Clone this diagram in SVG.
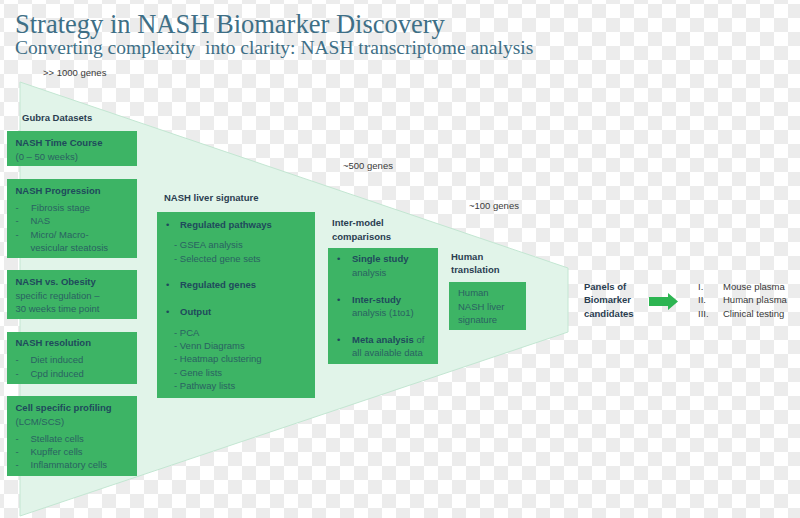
<svg xmlns="http://www.w3.org/2000/svg" width="800" height="518" viewBox="0 0 800 518">
<defs>
<pattern id="chk" x="4" y="4" width="28" height="28" patternUnits="userSpaceOnUse">
<rect width="28" height="28" fill="#ffffff"/>
<rect width="14" height="14" fill="#ececec"/>
<rect x="14" y="14" width="14" height="14" fill="#ececec"/>
</pattern>
<style>
.t{font-family:"Liberation Sans",Arial,sans-serif;font-size:9.5px}
.b{font-weight:bold}
.hd{fill:#2a3d50}
.gh{fill:#1f4a5c}
.gt{fill:#2a6262}
.dk{fill:#3a3a3a}
.box{fill:#3db465}
.ttl{font-family:"Liberation Serif","Times New Roman",serif;fill:#3e6f86}
</style>
</defs>
<rect width="800" height="518" fill="url(#chk)"/>
<text class="ttl" x="15" y="33" font-size="26.5">Strategy in NASH Biomarker Discovery</text>
<text class="ttl" x="15" y="54" font-size="19.5" xml:space="preserve">Converting complexity  into clarity: NASH transcriptome analysis</text>
<text class="t dk" x="43" y="76">&gt;&gt; 1000 genes</text>
<polygon id="funnel" points="20,82 568,268 568,332 20,516" fill="#e1f4e9" stroke="#c3e6d2" stroke-width="1"/>
<text class="t dk" x="343" y="169">~500 genes</text>
<text class="t dk" x="469" y="209">~100 genes</text>
<g id="gubra">
<text class="t b hd" x="22" y="121">Gubra Datasets</text>
</g>
<g id="timecourse">
<rect class="box" x="7" y="131" width="130" height="35"/>
<text class="t b gh" x="15.5" y="146">NASH Time Course</text>
<text class="t gt" x="15.5" y="160">(0 – 50 weeks)</text>
</g>
<g id="progression">
<rect class="box" x="7" y="179" width="130" height="79"/>
<text class="t b gh" x="15.5" y="194">NASH Progression</text>
<text class="t gt" x="15.5" y="211">-</text><text class="t gt" x="31" y="211">Fibrosis stage</text>
<text class="t gt" x="15.5" y="224">-</text><text class="t gt" x="30.5" y="224">NAS</text>
<text class="t gt" x="15.5" y="238">-</text><text class="t gt" x="30.5" y="238">Micro/ Macro-</text>
<text class="t gt" x="30.5" y="251">vesicular steatosis</text>
</g>
<g id="obesity">
<rect class="box" x="7" y="270" width="130" height="49"/>
<text class="t b gh" x="15.5" y="285">NASH vs. Obesity</text>
<text class="t gt" x="15.5" y="299">specific regulation –</text>
<text class="t gt" x="15.5" y="312">30 weeks time point</text>
</g>
<g id="resolution">
<rect class="box" x="7" y="332" width="130" height="52"/>
<text class="t b gh" x="15.5" y="346">NASH resolution</text>
<text class="t gt" x="15.5" y="363">-</text><text class="t gt" x="30.5" y="363">Diet induced</text>
<text class="t gt" x="15.5" y="377">-</text><text class="t gt" x="30.5" y="377">Cpd induced</text>
</g>
<g id="cellspecific">
<rect class="box" x="7" y="396" width="130" height="80"/>
<text class="t b gh" x="15.5" y="411">Cell specific profiling</text>
<text class="t gt" x="15.5" y="425">(LCM/SCS)</text>
<text class="t gt" x="15.5" y="442">-</text><text class="t gt" x="30.5" y="442">Stellate cells</text>
<text class="t gt" x="15.5" y="455">-</text><text class="t gt" x="30.5" y="455">Kupffer cells</text>
<text class="t gt" x="15.5" y="468">-</text><text class="t gt" x="30.5" y="468">Inflammatory cells</text>
</g>
<g id="signature">
<text class="t b hd" x="164" y="201">NASH liver signature</text>
<rect class="box" x="157" y="212" width="158" height="186"/>
<text class="t gh" x="166" y="228">•</text><text class="t b gh" x="180" y="228">Regulated pathways</text>
<text class="t gt" x="174" y="248">- GSEA analysis</text>
<text class="t gt" x="174" y="262">- Selected gene sets</text>
<text class="t gh" x="166" y="288">•</text><text class="t b gh" x="180" y="288">Regulated genes</text>
<text class="t gh" x="166" y="315">•</text><text class="t b gh" x="180" y="315">Output</text>
<text class="t gt" x="174" y="336">- PCA</text>
<text class="t gt" x="174" y="349">- Venn Diagrams</text>
<text class="t gt" x="174" y="362">- Heatmap clustering</text>
<text class="t gt" x="174" y="376">- Gene lists</text>
<text class="t gt" x="174" y="389">- Pathway lists</text>
</g>
<g id="intermodel">
<text class="t b hd" x="332" y="226">Inter-model</text>
<text class="t b hd" x="332" y="240">comparisons</text>
<rect class="box" x="328" y="248" width="110" height="116"/>
<text class="t gh" x="337" y="262">•</text><text class="t b gh" x="352" y="262">Single study</text>
<text class="t gt" x="352" y="276">analysis</text>
<text class="t gh" x="337" y="303">•</text><text class="t b gh" x="352" y="303">Inter-study</text>
<text class="t gt" x="352" y="316">analysis (1to1)</text>
<text class="t gh" x="337" y="343">•</text><text class="t gt" x="352" y="343"><tspan class="b gh">Meta analysis</tspan> of</text>
<text class="t gt" x="352" y="356">all available data</text>
</g>
<g id="human">
<text class="t b hd" x="451" y="260">Human</text>
<text class="t b hd" x="451" y="273">translation</text>
<rect class="box" x="449" y="282" width="77" height="48"/>
<text class="t gt" x="458" y="296">Human</text>
<text class="t gt" x="458" y="310">NASH liver</text>
<text class="t gt" x="458" y="323">signature</text>
</g>
<g id="panels">
<text class="t b hd" x="584" y="290">Panels of</text>
<text class="t b hd" x="584" y="303">Biomarker</text>
<text class="t b hd" x="584" y="317">candidates</text>
</g>
<g id="connectors">
<polygon points="649,297 668,297 668,293 678,301.5 668,310 668,306 649,306" fill="#2db552"/>
</g>
<g id="outcomes">
<text class="t dk" x="698" y="290">I.</text><text class="t dk" x="723" y="290">Mouse plasma</text>
<text class="t dk" x="698" y="303">II.</text><text class="t dk" x="723" y="303">Human plasma</text>
<text class="t dk" x="698" y="317">III.</text><text class="t dk" x="723" y="317">Clinical testing</text>
</g>
</svg>
